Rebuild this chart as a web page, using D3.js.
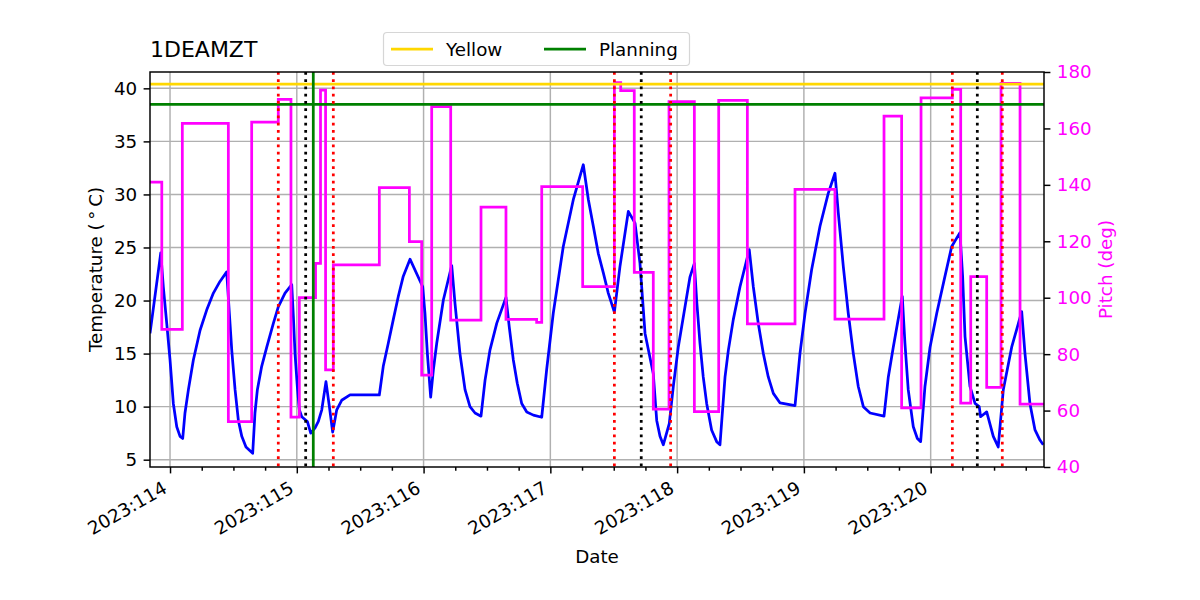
<!DOCTYPE html>
<html>
<head>
<meta charset="utf-8">
<script src="https://cdn.jsdelivr.net/npm/d3@7"></script>
<style>
  body { margin: 0; background: #fff; }
  text { font-family: "DejaVu Sans", sans-serif; }
</style>
</head>
<body>
<div class="container"></div>
<script>
var width = 1200,
    height = 600,
    margin = {top: 72, right: 156, bottom: 133, left: 150},
    plotW = width - margin.left - margin.right,
    plotH = height - margin.top - margin.bottom;

// ---------- DATA (time = 2023 day of year) ----------
var tempTimes = [113.842, 113.927, 113.947, 113.974, 114.000, 114.026, 114.053, 114.079, 114.100, 114.118,
  114.145, 114.184, 114.237, 114.289, 114.342, 114.394, 114.447, 114.468, 114.487, 114.513,
  114.539, 114.566, 114.599, 114.652, 114.670, 114.689, 114.723, 114.763, 114.815, 114.854,
  114.907, 114.960, 114.973, 114.986, 115.004, 115.020, 115.039, 115.083, 115.110, 115.144,
  115.170, 115.197, 115.230, 115.257, 115.283, 115.315, 115.354, 115.420, 115.651, 115.682,
  115.722, 115.761, 115.801, 115.840, 115.893, 115.993, 116.011, 116.030, 116.056, 116.077,
  116.104, 116.156, 116.222, 116.248, 116.287, 116.327, 116.366, 116.406, 116.453, 116.485,
  116.524, 116.577, 116.650, 116.676, 116.708, 116.739, 116.774, 116.814, 116.866, 116.932,
  116.971, 117.023, 117.102, 117.181, 117.260, 117.300, 117.339, 117.378, 117.418, 117.457,
  117.505, 117.549, 117.615, 117.668, 117.707, 117.747, 117.812, 117.839, 117.865, 117.891,
  117.938, 117.970, 118.009, 118.101, 118.136, 118.154, 118.180, 118.206, 118.233, 118.272,
  118.312, 118.338, 118.378, 118.404, 118.443, 118.496, 118.569, 118.601, 118.640, 118.680,
  118.719, 118.759, 118.812, 118.930, 118.969, 119.009, 119.061, 119.127, 119.192, 119.245,
  119.271, 119.311, 119.350, 119.390, 119.429, 119.469, 119.522, 119.632, 119.666, 119.705,
  119.776, 119.797, 119.823, 119.863, 119.895, 119.921, 119.955, 119.995, 120.048, 120.113,
  120.166, 120.231, 120.252, 120.271, 120.310, 120.350, 120.383, 120.394, 120.442, 120.494,
  120.533, 120.573, 120.639, 120.718, 120.744, 120.783, 120.823, 120.862, 120.888];
var tempValues = [16.9, 24.5, 21.3, 17.85, 14.4, 10.3, 8.1, 7.2, 7.0, 9.4,
  11.6, 14.4, 17.2, 19.1, 20.7, 21.8, 22.7, 18.8, 15.3, 11.6,
  8.7, 7.2, 6.2, 5.6, 9.4, 11.6, 13.8, 15.6, 17.85, 19.4,
  20.7, 21.5, 18.5, 15.0, 11.9, 9.7, 9.05, 8.6, 7.5, 8.0,
  8.6, 9.7, 12.35, 10.0, 7.6, 9.7, 10.6, 11.1, 11.1, 13.8,
  16.0, 18.2, 20.4, 22.3, 23.9, 21.3, 18.8, 15.0, 10.9, 13.45,
  16.0, 20.05, 23.3, 19.7, 15.0, 11.6, 10.0, 9.4, 9.1, 12.5,
  15.35, 17.85, 20.3, 17.5, 14.4, 12.2, 10.3, 9.5, 9.2, 9.0,
  13.5, 18.8, 25.1, 29.5, 32.8, 29.5, 27.0, 24.45, 22.6, 20.7,
  18.9, 23.2, 28.4, 27.3, 23.5, 16.9, 13.1, 8.7, 7.2, 6.4,
  8.4, 11.9, 15.6, 22.2, 23.5, 20.05, 16.0, 12.8, 10.3, 7.8,
  6.7, 6.4, 12.8, 15.3, 18.2, 21.3, 24.8, 21.3, 17.85, 15.0,
  12.8, 11.25, 10.35, 10.1, 15.0, 18.8, 22.9, 27.0, 30.1, 32.0,
  28.3, 23.2, 18.8, 15.0, 11.9, 10.0, 9.4, 9.1, 12.8, 15.6,
  20.4, 16.0, 11.6, 8.1, 7.0, 6.7, 11.9, 15.6, 18.8, 22.3,
  25.1, 26.4, 22.3, 16.6, 11.9, 10.3, 10.0, 9.05, 9.5, 7.2,
  6.2, 11.6, 15.6, 18.95, 15.0, 10.3, 7.8, 6.85, 6.4];

// pitch holds each value until the next time
var pitchTimes = [113.842, 113.935, 114.097, 114.460, 114.644, 114.854, 114.954, 115.020, 115.148, 115.187,
  115.227, 115.288, 115.651, 115.888, 115.985, 116.064, 116.214, 116.453, 116.650, 116.892,
  116.932, 117.255, 117.505, 117.555, 117.662, 117.812, 117.936, 118.136, 118.328, 118.554,
  118.930, 119.245, 119.632, 119.771, 119.924, 120.171, 120.237, 120.316, 120.442, 120.555,
  120.705, 120.894];
var pitchValues = [141, 88.8, 161.8, 56.1, 162.2, 170.3, 57.7, 100.0, 112.2, 173.6,
  74.4, 111.6, 139.0, 119.9, 72.6, 167.7, 92.1, 132.1, 92.3, 91.3,
  139.4, 103.9, 176.2, 173.4, 109.0, 60.5, 169.5, 59.6, 169.9, 90.7,
  138.4, 92.4, 164.4, 61.0, 170.8, 173.8, 62.6, 107.5, 68.2, 176.0,
  62.3, 62.3];

var yellowLimit = 40.4,
    planningLimit = 38.5;
var redTimes = [114.854, 115.288, 117.505, 117.949, 120.171, 120.565];
var blackTimes = [115.070, 117.717, 120.368];
var greenTimes = [115.130];

var dayTicks = [114, 115, 116, 117, 118, 119, 120];
var tempTicks = [5, 10, 15, 20, 25, 30, 35, 40];
var pitchTicks = [40, 60, 80, 100, 120, 140, 160, 180];
var legendNames = ["Yellow", "Planning"];
var legendColors = ["#ffd700", "#008000"];

// ---------- SCALES ----------
var x = d3.scaleLinear().domain([113.842, 120.894]).range([0, plotW]);
var yT = d3.scaleLinear().domain([4.31, 41.54]).range([plotH, 0]);
var yP = d3.scaleLinear().domain([40, 180]).range([plotH, 0]);

var fs = 18.3, lw = 2.75, tick = 6.4;

var svg = d3.select(".container").append("svg")
    .attr("width", width)
    .attr("height", height);

svg.append("defs").append("clipPath")
    .attr("id", "plotclip")
  .append("rect")
    .attr("width", plotW)
    .attr("height", plotH);

var g = svg.append("g")
    .attr("transform", "translate(" + margin.left + "," + margin.top + ")");

// ---------- GRID ----------
var grid = g.append("g").attr("class", "grid");
grid.selectAll(".vgrid")
    .data(dayTicks)
  .enter().append("line")
    .attr("x1", function(d) { return x(d); })
    .attr("x2", function(d) { return x(d); })
    .attr("y1", 0).attr("y2", plotH)
    .attr("stroke", "#b0b0b0").attr("stroke-width", 1.47);
grid.selectAll(".hgrid")
    .data(tempTicks)
  .enter().append("line")
    .attr("y1", function(d) { return yT(d); })
    .attr("y2", function(d) { return yT(d); })
    .attr("x1", 0).attr("x2", plotW)
    .attr("stroke", "#b0b0b0").attr("stroke-width", 1.47);

var plot = g.append("g").attr("clip-path", "url(#plotclip)");

// ---------- SERIES ----------
var tempLine = d3.line()
    .x(function(d, i) { return x(tempTimes[i]); })
    .y(function(d) { return yT(d); });

plot.append("path")
    .datum(tempValues)
    .attr("d", tempLine)
    .attr("fill", "none")
    .attr("stroke", "#0000ff")
    .attr("stroke-width", lw)
    .attr("stroke-linejoin", "round");

var pitchLine = d3.line()
    .curve(d3.curveStepAfter)
    .x(function(d, i) { return x(pitchTimes[i]); })
    .y(function(d) { return yP(d); });

plot.append("path")
    .datum(pitchValues)
    .attr("d", pitchLine)
    .attr("fill", "none")
    .attr("stroke", "#ff00ff")
    .attr("stroke-width", lw);

// limits
plot.selectAll(".limit")
    .data([yellowLimit, planningLimit])
  .enter().append("line")
    .attr("x1", 0).attr("x2", plotW)
    .attr("y1", function(d) { return yT(d); })
    .attr("y2", function(d) { return yT(d); })
    .attr("stroke", function(d, i) { return legendColors[i]; })
    .attr("stroke-width", lw);

// event markers
function vlines(times, colour, dash) {
  plot.selectAll(null)
      .data(times)
    .enter().append("line")
      .attr("x1", function(d) { return x(d); })
      .attr("x2", function(d) { return x(d); })
      .attr("y1", 0).attr("y2", plotH)
      .attr("stroke", colour)
      .attr("stroke-width", lw)
      .attr("stroke-dasharray", dash);
}
vlines(greenTimes, "#008000", null);
vlines(redTimes, "#ff0000", "2.75,4.5");
vlines(blackTimes, "#000000", "2.75,4.5");

// ---------- AXES ----------
function styleAxis(sel, colour) {
  sel.select(".domain").remove();
  sel.selectAll("line").attr("stroke", "#000").attr("stroke-width", 1.47);
  sel.selectAll("text")
      .attr("font-size", fs)
      .attr("font-family", "DejaVu Sans")
      .attr("fill", colour);
}

var xMinor = g.append("g")
    .attr("transform", "translate(0," + plotH + ")")
    .call(d3.axisBottom(x)
      .tickValues(d3.range(114, 120.9, 0.25).filter(function(d) { return d % 1 !== 0; }))
      .tickSize(3.7)
      .tickFormat(""));
styleAxis(xMinor, "#000");

var xAxis = g.append("g")
    .attr("transform", "translate(0," + plotH + ")")
    .call(d3.axisBottom(x)
      .tickValues(dayTicks)
      .tickSize(tick)
      .tickFormat(function(d) { return "2023:" + d; }));
styleAxis(xAxis, "#000");
xAxis.selectAll("text")
    .attr("x", 0).attr("y", 0).attr("dy", null)
    .attr("text-anchor", "end")
    .attr("transform", "translate(-2.2,24.8) rotate(-30)");

var yAxis = g.append("g")
    .call(d3.axisLeft(yT).tickValues(tempTicks).tickSize(tick).tickPadding(tick));
styleAxis(yAxis, "#000");

var yAxis2 = g.append("g")
    .attr("transform", "translate(" + plotW + ",0)")
    .call(d3.axisRight(yP).tickValues(pitchTicks).tickSize(tick).tickPadding(tick));
styleAxis(yAxis2, "#ff00ff");

// frame
g.append("rect")
    .attr("width", plotW)
    .attr("height", plotH)
    .attr("fill", "none")
    .attr("stroke", "#000")
    .attr("stroke-width", 1.47);

// ---------- LABELS ----------
svg.append("text")
    .attr("x", margin.left)
    .attr("y", 57)
    .attr("font-size", 22)
    .text("1DEAMZT");

svg.append("text")
    .attr("x", margin.left + plotW / 2)
    .attr("y", 563)
    .attr("text-anchor", "middle")
    .attr("font-size", fs)
    .text("Date");

svg.append("text")
    .attr("transform", "translate(102," + (margin.top + plotH / 2) + ") rotate(-90)")
    .attr("text-anchor", "middle")
    .attr("font-size", fs)
    .text("Temperature (\u2009\u00b0\u2009C)");

svg.append("text")
    .attr("transform", "translate(1112," + (margin.top + plotH / 2) + ") rotate(-90)")
    .attr("text-anchor", "middle")
    .attr("font-size", fs)
    .attr("fill", "#ff00ff")
    .text("Pitch (deg)");

// ---------- LEGEND ----------
var legend = svg.append("g");
legend.append("rect")
    .attr("x", 383.5).attr("y", 32.5)
    .attr("width", 306).attr("height", 33)
    .attr("rx", 3.5)
    .attr("fill", "#fff")
    .attr("stroke", "#d6d6d6")
    .attr("stroke-width", 1.2);

var itemX = [391, 544];
var items = legend.selectAll(".item")
    .data(legendNames)
  .enter().append("g")
    .attr("transform", function(d, i) { return "translate(" + itemX[i] + ",49)"; });
items.append("line")
    .attr("x1", 0).attr("x2", 42)
    .attr("stroke", function(d, i) { return legendColors[i]; })
    .attr("stroke-width", lw);
items.append("text")
    .attr("x", 55)
    .attr("y", 6.5)
    .attr("font-size", fs)
    .text(function(d) { return d; });
</script>
</body>
</html>
